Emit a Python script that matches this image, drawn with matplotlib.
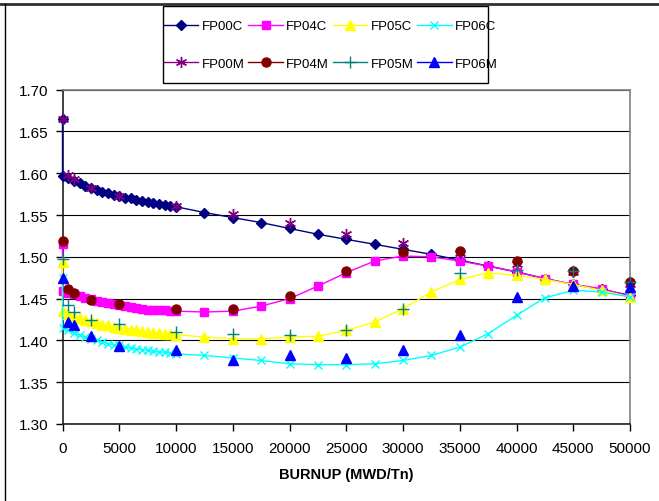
import matplotlib
matplotlib.use("Agg")
import matplotlib.pyplot as plt
from matplotlib.lines import Line2D
from matplotlib.patches import Rectangle

plt.rcParams['font.family'] = ['Liberation Sans', 'DejaVu Sans']

# calculated series (C): burnup steps
burnup_c = [0, 0, 500, 1000, 1500, 2000, 2500, 3000, 3500, 4000, 4500, 5000,
            5500, 6000, 6500, 7000, 7500, 8000, 8500, 9000, 9500, 10000,
            12500, 15000, 17500, 20000, 22500, 25000, 27500, 30000, 32500,
            35000, 37500, 40000, 42500, 45000, 47500, 50000]

fp00c = [1.665, 1.597, 1.594, 1.591, 1.588, 1.585, 1.582, 1.580, 1.578, 1.576,
         1.574, 1.573, 1.571, 1.570, 1.568, 1.567, 1.566, 1.565, 1.563, 1.562,
         1.561, 1.560, 1.553, 1.547, 1.541, 1.534, 1.527, 1.521, 1.515, 1.509,
         1.503, 1.496, 1.489, 1.482, 1.474, 1.467, 1.461, 1.454]
fp04c = [1.515, 1.459, 1.457, 1.455, 1.453, 1.451, 1.449, 1.447, 1.446, 1.445,
         1.443, 1.442, 1.441, 1.440, 1.439, 1.438, 1.437, 1.437, 1.436, 1.436,
         1.435, 1.435, 1.434, 1.435, 1.441, 1.450, 1.465, 1.481, 1.495, 1.501,
         1.500, 1.495, 1.489, 1.482, 1.474, 1.467, 1.462, 1.453]
fp05c = [1.494, 1.435, 1.432, 1.429, 1.427, 1.425, 1.423, 1.421, 1.419, 1.418,
         1.416, 1.415, 1.414, 1.413, 1.412, 1.411, 1.410, 1.409, 1.409, 1.408,
         1.408, 1.407, 1.404, 1.402, 1.402, 1.404, 1.405, 1.412, 1.422, 1.438,
         1.458, 1.473, 1.481, 1.478, 1.473, 1.467, 1.460, 1.452]
fp06c = [1.475, 1.415, 1.412, 1.409, 1.406, 1.404, 1.402, 1.400, 1.398, 1.396,
         1.395, 1.394, 1.392, 1.391, 1.390, 1.389, 1.388, 1.387, 1.386, 1.386,
         1.385, 1.384, 1.382, 1.379, 1.376, 1.372, 1.371, 1.371, 1.372, 1.376,
         1.382, 1.392, 1.408, 1.430, 1.451, 1.460, 1.458, 1.452]

# measured series (M)
burnup_m = [0, 500, 1000, 2500, 5000, 10000, 15000, 20000, 25000, 30000,
            35000, 40000, 45000, 50000]
fp00m = [1.665, 1.598, 1.593, 1.582, 1.573, 1.561, 1.551, 1.540, 1.527, 1.517,
         1.505, 1.492, 1.482, 1.468]
fp04m = [1.519, 1.461, 1.457, 1.448, 1.444, 1.438, 1.438, 1.453, 1.483, 1.506,
         1.507, 1.495, 1.483, 1.470]
fp05m = [1.497, 1.442, 1.434, 1.424, 1.420, 1.410, 1.408, 1.406, 1.413, 1.438,
         1.481, 1.484, 1.483, 1.470]
fp06m = [1.475, 1.422, 1.418, 1.405, 1.393, 1.389, 1.377, 1.383, 1.379, 1.389,
         1.406, 1.452, 1.465, 1.464]

x_ticks = [0, 5000, 10000, 15000, 20000, 25000, 30000, 35000, 40000, 45000, 50000]
y_ticks = [1.30, 1.35, 1.40, 1.45, 1.50, 1.55, 1.60, 1.65, 1.70]

asterisk = (6, 2, 0)

c_series = [
    ('FP00C', fp00c, '#000080', 'D', 5.5),
    ('FP04C', fp04c, '#FF00FF', 's', 5.5),
    ('FP05C', fp05c, '#FFFF00', '^', 6.5),
    ('FP06C', fp06c, '#00FFFF', 'x', 6),
]
m_series = [
    ('FP00M', fp00m, '#800080', asterisk, 8),
    ('FP04M', fp04m, '#800000', 'o', 6.5),
    ('FP05M', fp05m, '#008080', '+', 8),
    ('FP06M', fp06m, '#0000FF', '^', 6.5),
]

W, H = 659, 502
fig = plt.figure(figsize=(W / 100, H / 100), dpi=100)
ax = fig.add_axes([62.5 / W, 1 - 425 / H, (630 - 62.5) / W, (425 - 90.7) / H])

handles = {}
for name, vals, col, mk, ms in c_series:
    ax.plot(burnup_c, vals, color=col, lw=1.0, marker=mk, ms=ms,
            mec=col, mfc=col, mew=1.0, zorder=3, clip_on=False)
    handles[name] = Line2D([], [], color=col, lw=1.0, marker=mk, ms=ms,
                           mec=col, mfc=col, mew=1.0)
for name, vals, col, mk, ms in m_series:
    ax.plot(burnup_m, vals, ls='none', marker=mk, ms=ms,
            mec=col, mfc=col, mew=1.0, zorder=4, clip_on=False)
    handles[name] = Line2D([], [], color=col, lw=1.0, marker=mk, ms=ms,
                           mec=col, mfc=col, mew=1.0)

ax.set_xlim(0, 50000)
ax.set_ylim(1.30, 1.70)
ax.set_xticks(x_ticks)
ax.set_xticklabels([str(t) for t in x_ticks])
ax.set_yticks(y_ticks)
ax.set_yticklabels(['%.2f' % t for t in y_ticks])
ax.tick_params(direction='out', length=5, width=1, labelsize=11, color='black')
ax.tick_params(axis='x', pad=7)
ax.tick_params(axis='y', pad=5)
ax.yaxis.grid(True, color='black', lw=0.8)
ax.set_axisbelow(True)
for s in ['left', 'bottom']:
    ax.spines[s].set_color('#202020')
    ax.spines[s].set_linewidth(1.2)
for s in ['top', 'right']:
    ax.spines[s].set_color('#808080')
    ax.spines[s].set_linewidth(1.2)

ax.set_xlabel('BURNUP (MWD/Tn)', fontsize=10.5, fontweight='bold', labelpad=9)

# legend: 2 rows x 4 columns, framed by a plain box
order = ['FP00C', 'FP00M', 'FP04C', 'FP04M', 'FP05C', 'FP05M', 'FP06C', 'FP06M']
fig.legend([handles[n] for n in order], order, ncol=4, loc='upper left',
           bbox_to_anchor=(164 / W, 1 - 21 / H), fontsize=9.5,
           frameon=False, borderaxespad=0, borderpad=0, handlelength=2.6,
           handletextpad=0.25, columnspacing=0.3, labelspacing=1.9,
           numpoints=1)
fig.add_artist(Rectangle((163 / W, 1 - 84 / H), (488 - 163) / W, (84 - 7) / H,
                         transform=fig.transFigure, fill=False,
                         edgecolor='black', lw=1.0))

# outer chart border (top and left visible)
fig.add_artist(Line2D([0, 1], [1 - 5 / H, 1 - 5 / H], transform=fig.transFigure,
                      color='#303030', lw=2))
fig.add_artist(Line2D([4.5 / W, 4.5 / W], [0, 1 - 5 / H], transform=fig.transFigure,
                      color='black', lw=1))

fig.savefig('out.png', dpi=100)
